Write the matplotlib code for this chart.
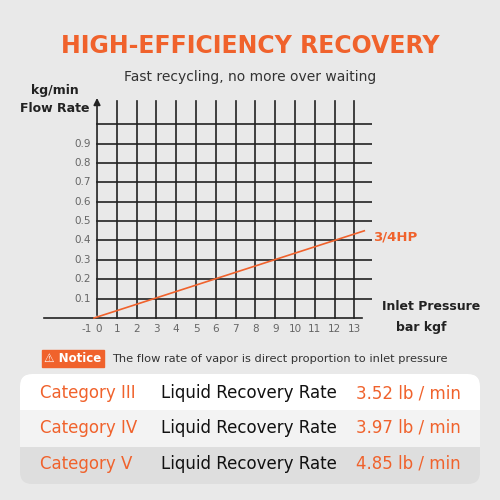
import matplotlib
matplotlib.use("Agg")
import matplotlib.pyplot as plt
from matplotlib.patches import FancyBboxPatch, Rectangle

x_ticks = list(range(-1, 14))
y_ticks = [0.1, 0.2, 0.3, 0.4, 0.5, 0.6, 0.7, 0.8, 0.9]
line_x = [-0.15, 13.5]
line_y = [0.0, 0.45]
categories = ["Category III", "Category IV", "Category V"]
rates = ["3.52 lb / min", "3.97 lb / min", "4.85 lb / min"]

OR = "#f0622c"
W, H = 500, 500
fig = plt.figure(figsize=(5, 5), dpi=100)
fig.patch.set_facecolor("#e9e9e9")

def px(x0, y0, x1, y1):
    return [x0 / W, 1 - y1 / H, (x1 - x0) / W, (y1 - y0) / H]

ax = fig.add_axes(px(40, 95, 372, 330))
ax.set_xlim(-2.88, 13.89)
ax.set_ylim(-0.062, 1.151)
ax.axis("off")
for xv in range(1, 14):
    ax.plot([xv, xv], [0, 1.12], color="#222", lw=1.2)
for yv in y_ticks + [1.0]:
    ax.plot([0, 13.9], [yv, yv], color="#222", lw=1.2)
ax.plot([-2.7, 13.4], [0, 0], color="#222", lw=1.2)
ax.annotate("", xy=(0, 1.15), xytext=(0, 0), arrowprops=dict(arrowstyle="-|>", color="#222", lw=1.2))
ax.plot(line_x, line_y, color=OR, lw=1.2)
for xv in x_ticks:
    xpos = -0.5 if xv == -1 else (0.1 if xv == 0 else xv)
    ax.text(xpos, -0.03, str(xv), ha="center", va="top", fontsize=7.5, color="#666")
for yv in y_ticks:
    ax.text(-0.3, yv, f"{yv:.1f}", ha="right", va="center", fontsize=7.5, color="#666")

fig.text(0.5, 1 - 46 / H, "HIGH-EFFICIENCY RECOVERY", ha="center", va="center", fontsize=17, fontweight="bold", color=OR)
fig.text(0.5, 1 - 77 / H, "Fast recycling, no more over waiting", ha="center", va="center", fontsize=10, color="#333")
fig.text(55 / W, 1 - 91 / H, "kg/min", ha="center", va="center", fontsize=9, fontweight="bold", color="#222")
fig.text(55 / W, 1 - 109 / H, "Flow Rate", ha="center", va="center", fontsize=9, fontweight="bold", color="#222")
fig.text(373 / W, 1 - 237 / H, "3/4HP", ha="left", va="center", fontsize=9.5, fontweight="bold", color=OR)
fig.text(382 / W, 1 - 307 / H, "Inlet Pressure", ha="left", va="center", fontsize=9, fontweight="bold", color="#222")
fig.text(396 / W, 1 - 327 / H, "bar kgf", ha="left", va="center", fontsize=9, fontweight="bold", color="#222")

ov = fig.add_axes([0, 0, 1, 1])
ov.set_xlim(0, W); ov.set_ylim(H, 0); ov.axis("off")
ov.add_patch(Rectangle((42, 350), 62, 17, color=OR))
ov.text(73, 358.5, "⚠ Notice", ha="center", va="center", fontsize=8.5, fontweight="bold", color="white")
ov.text(112, 358.5, "The flow rate of vapor is direct proportion to inlet pressure", ha="left", va="center", fontsize=8.2, color="#333")
ov.add_patch(FancyBboxPatch((20, 374), 460, 110, boxstyle="round,pad=0,rounding_size=12", fc="#dedede", ec="none"))
ov.add_patch(FancyBboxPatch((20, 374), 460, 36, boxstyle="round,pad=0,rounding_size=12", fc="white", ec="none"))
ov.add_patch(Rectangle((20, 395), 460, 15, fc="white", ec="none"))
ov.add_patch(Rectangle((20, 410), 460, 37, fc="#f3f3f3", ec="none"))
ys = [393, 428, 464]
for c, r, y in zip(categories, rates, ys):
    ov.text(40, y, c, ha="left", va="center", fontsize=12, color=OR)
    ov.text(161, y, "Liquid Recovery Rate", ha="left", va="center", fontsize=12, color="#111")
    ov.text(461, y, r, ha="right", va="center", fontsize=12, color=OR)

fig.savefig("out.png", dpi=100, facecolor=fig.get_facecolor())
